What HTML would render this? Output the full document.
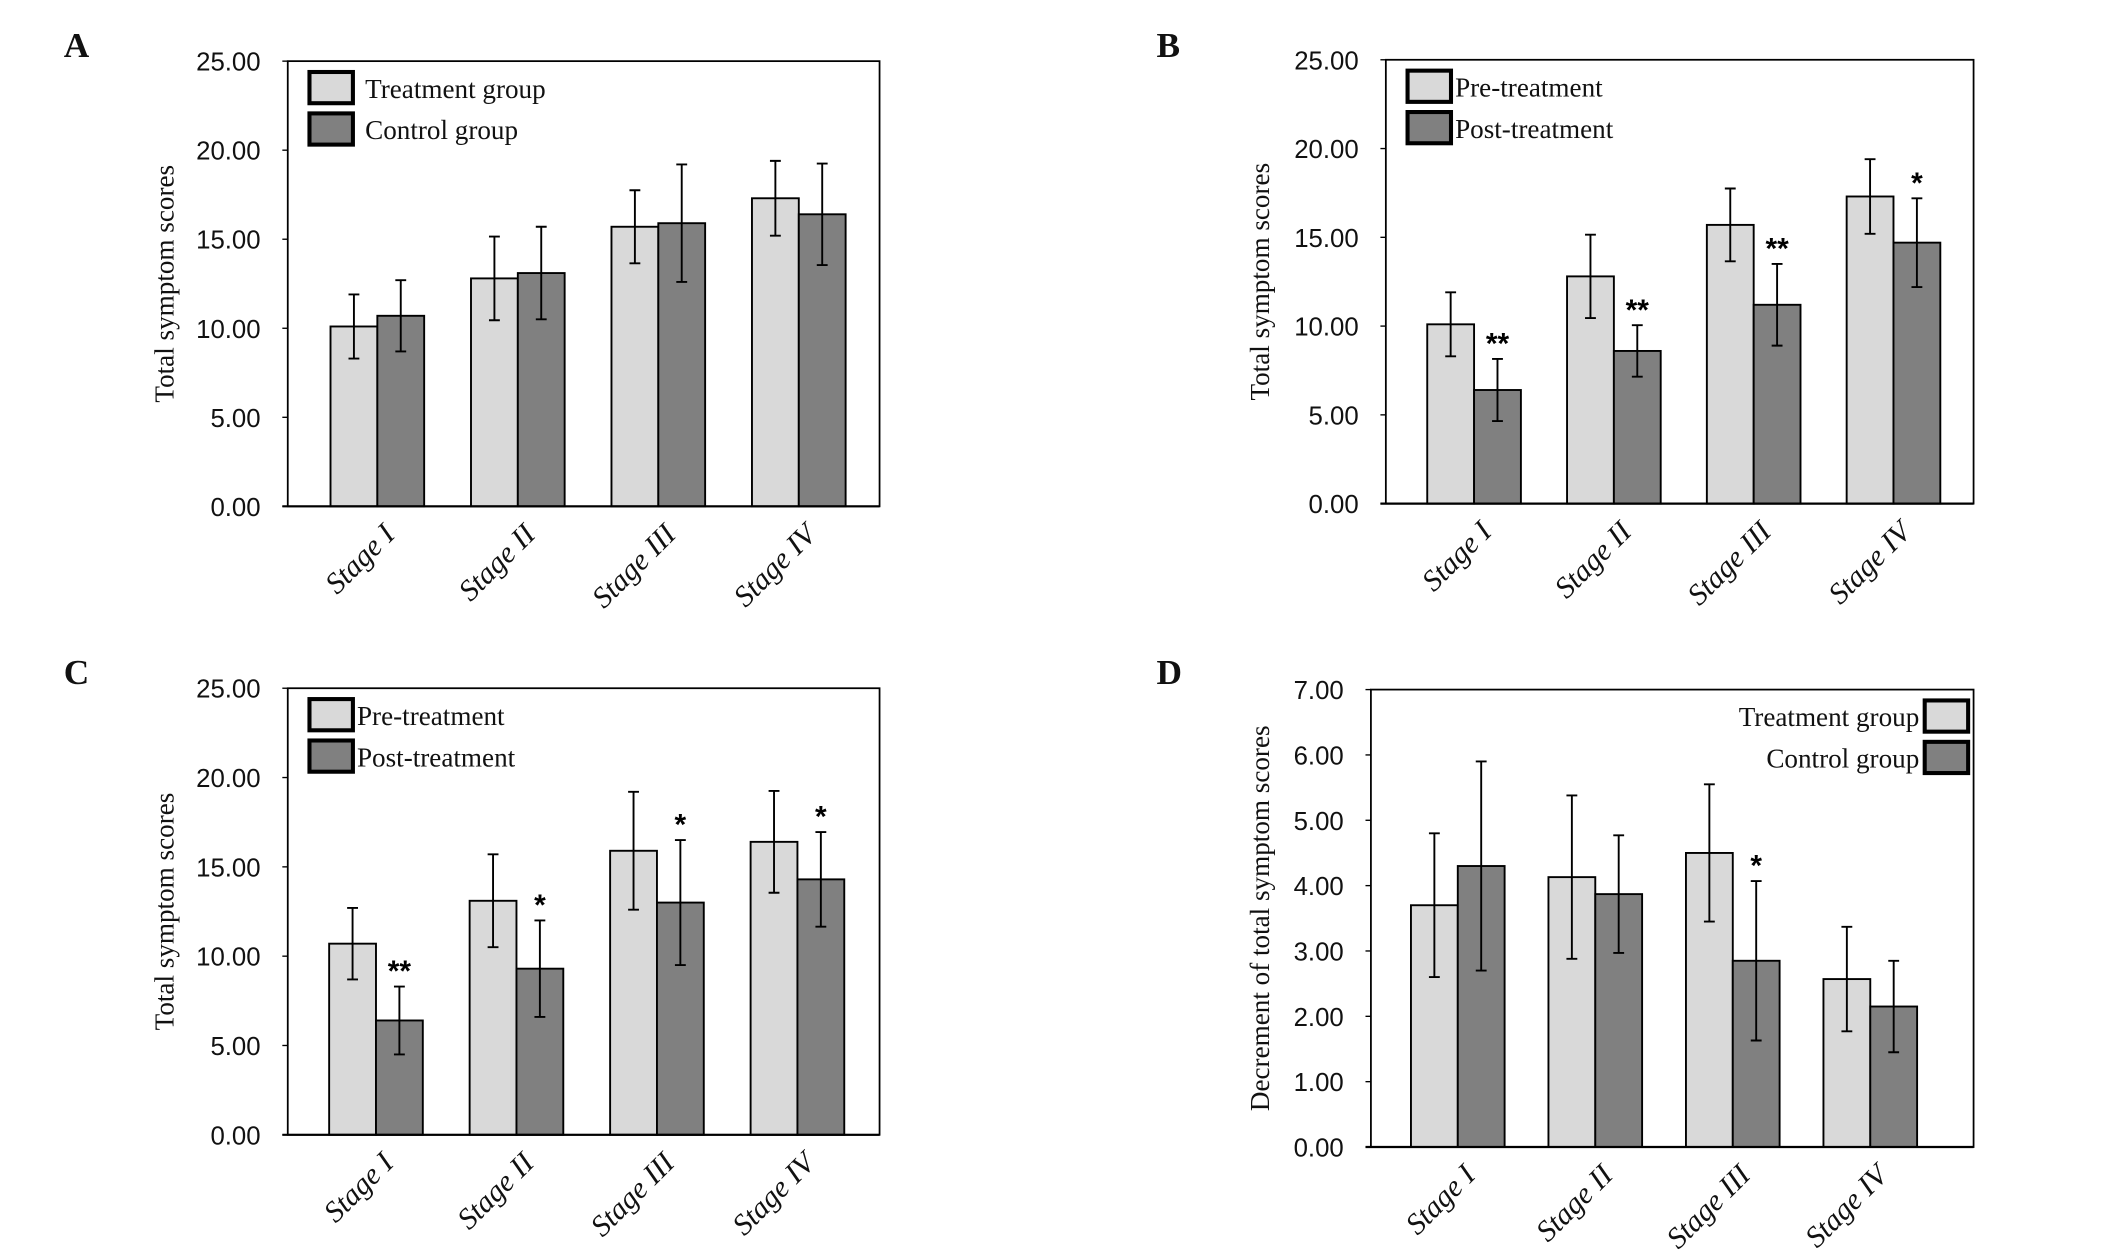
<!DOCTYPE html>
<html><head><meta charset="utf-8">
<style>
html,body{margin:0;padding:0;background:#fff;}
svg{display:block;}
.tick{font-family:"Liberation Sans Narrow","Liberation Sans",sans-serif;font-size:19px;fill:#111;}
.ser{font-family:"Liberation Serif",serif;fill:#111;}
</style></head>
<body>
<svg id="fig" width="2126" height="1260" viewBox="0 0 1566.3 928.2" xmlns="http://www.w3.org/2000/svg"></svg>
<script>
// ---- data ----
const categories = ["Stage I","Stage II","Stage III","Stage IV"];
const aTreatment = [10.1, 12.8, 15.7, 17.3];
const aTreatmentErr = [1.8, 2.35, 2.05, 2.1];
const aControl = [10.7, 13.1, 15.9, 16.4];
const aControlErr = [2.0, 2.6, 3.3, 2.85];
const bPre = [10.1, 12.8, 15.7, 17.3];
const bPreErr = [1.8, 2.35, 2.05, 2.1];
const bPost = [6.4, 8.6, 11.2, 14.7];
const bPostErr = [1.75, 1.45, 2.3, 2.5];
const bStars = ["**","**","**","*"];
const cPre = [10.7, 13.1, 15.9, 16.4];
const cPreErr = [2.0, 2.6, 3.3, 2.85];
const cPost = [6.4, 9.3, 13.0, 14.3];
const cPostErr = [1.9, 2.7, 3.5, 2.65];
const cStars = ["**","*","*","*"];
const dTreatment = [3.7, 4.13, 4.5, 2.57];
const dTreatmentErr = [1.1, 1.25, 1.05, 0.8];
const dControl = [4.3, 3.87, 2.85, 2.15];
const dControlErr = [1.6, 0.9, 1.22, 0.7];
const dStars = ["","","*",""];
const ticks25 = ["0.00","5.00","10.00","15.00","20.00","25.00"];
const ticks7 = ["0.00","1.00","2.00","3.00","4.00","5.00","6.00","7.00"];

const NS="http://www.w3.org/2000/svg";
const svg=document.getElementById('fig');
function mk(tag,attrs,parent){const e=document.createElementNS(NS,tag);for(const k in attrs)e.setAttribute(k,attrs[k]);(parent||svg).appendChild(e);return e;}

function panel(p){
  const g=mk('g',{});
  
  
  const W=p.right-p.left, H=p.bottom-p.top;
  const y=v=>p.bottom-v/p.max*H;
  const cx=i=>p.left+p.first+i*p.step;
  const bw=34.5;
  const L=mk('text',{x:p.lx,y:p.ly,class:'ser','font-size':26,'font-weight':'bold'},g);L.textContent=p.letter;
  
  
  p.ticks.forEach((t,i)=>{
    const v=parseFloat(t);
    const tt=mk('text',{x:p.left-20,y:y(v)+7,class:'tick','text-anchor':'end'},g);tt.textContent=t;
    
    
    mk('line',{x1:p.left-4,x2:p.left,y1:y(v),y2:y(v),stroke:'#000','stroke-width':1},g);
  });
  const yt=mk('text',{x:0,y:0,class:'ser','font-size':20,'text-anchor':'middle',transform:`translate(${p.tx},${(p.top+p.bottom)/2}) rotate(-90)`},g);
  yt.textContent=p.ytitle;
  
  
  const series=[[p.s1,p.e1,'#d9d9d9'],[p.s2,p.e2,'#808080']];
  series.forEach((s,si)=>{
    s[0].forEach((v,i)=>{
      const x0=cx(i)+(si===0?-bw:0);
      const r=mk('rect',{x:x0,y:y(v),width:bw,height:p.bottom-y(v),fill:s[2],stroke:'#000','stroke-width':1.4},g);
      
      
      const xm=x0+bw/2, e=s[1][i];
      const eb=mk('path',{d:`M${xm},${y(v+e)}V${y(v-e)}M${xm-4},${y(v+e)}h8M${xm-4},${y(v-e)}h8`,stroke:'#000','stroke-width':1.4,fill:'none'},g);
      
      
      if(si===1 && p.stars && p.stars[i]){
        const st=mk('text',{x:xm,y:y(v+e)-4,'text-anchor':'middle','font-family':'"Liberation Sans",sans-serif','font-size':22,'font-weight':'bold'},g);
        st.textContent=p.stars[i];
        
        
      }
    });
  });
  const fr=mk('rect',{x:p.left,y:p.top,width:W,height:H,fill:'none',stroke:'#000','stroke-width':1.3},g);
  
  
  mk('line',{x1:p.left-4,x2:p.right,y1:p.bottom,y2:p.bottom,stroke:'#000','stroke-width':1.6},g);
  categories.forEach((c,i)=>{
    const t=mk('text',{x:0,y:0,class:'ser','font-size':22,'font-style':'italic','text-anchor':'end',transform:`translate(${cx(i)+14},${p.bottom+22}) rotate(-45)`},g);
    t.textContent=c;
    
    
  });
  p.legend.forEach((lab,i)=>{
    const ly=p.top+8+i*30.5;
    const bx=p.legRight? p.right-36 : p.left+16;
    const b=mk('rect',{x:bx,y:ly,width:32,height:23,fill:i===0?'#d9d9d9':'#808080',stroke:'#000','stroke-width':3},g);
    
    
    const t=mk('text',{x:p.legRight?bx-4:bx+p.legGap,y:ly+19,class:'ser','font-size':20,'text-anchor':p.legRight?'end':'start'},g);
    t.textContent=lab;
    
    
  });
}

panel({id:'a',letter:'A',lx:47,ly:42,left:212,right:648,top:45,bottom:373,max:25,ticks:ticks25,first:66,step:103.5,tx:128,
  ytitle:'Total symptom scores',s1:aTreatment,e1:aTreatmentErr,s2:aControl,e2:aControlErr,legend:['Treatment group','Control group'],legGap:41});
panel({id:'b',letter:'B',lx:852,ly:42,left:1021,right:1454,top:44,bottom:371,max:25,ticks:ticks25,first:65,step:103,tx:935,
  ytitle:'Total symptom scores',s1:bPre,e1:bPreErr,s2:bPost,e2:bPostErr,stars:bStars,legend:['Pre-treatment','Post-treatment'],legGap:35});
panel({id:'c',letter:'C',lx:47,ly:504,left:212,right:648,top:507,bottom:836,max:25,ticks:ticks25,first:65,step:103.5,tx:128,
  ytitle:'Total symptom scores',s1:cPre,e1:cPreErr,s2:cPost,e2:cPostErr,stars:cStars,legend:['Pre-treatment','Post-treatment'],legGap:35});
panel({id:'d',letter:'D',lx:852,ly:504,left:1010,right:1454,top:508,bottom:845,max:7,ticks:ticks7,first:64,step:101.3,tx:935,
  ytitle:'Decrement of total symptom scores',s1:dTreatment,e1:dTreatmentErr,s2:dControl,e2:dControlErr,stars:dStars,legend:['Treatment group','Control group'],legRight:true});
</script>
</body></html>
